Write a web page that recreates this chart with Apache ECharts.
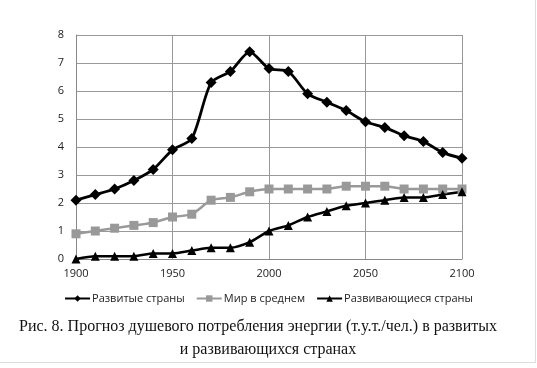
<!DOCTYPE html>
<html><head><meta charset="utf-8">
<script src="https://cdn.jsdelivr.net/npm/echarts@6/dist/echarts.min.js"></script>
<style>html,body{margin:0;padding:0;background:#fff}#c{width:537px;height:368px}</style>
</head><body><div id="c"></div>
<script>
const years = [1900,1910,1920,1930,1940,1950,1960,1970,1980,1990,2000,2010,2020,2030,2040,2050,2060,2070,2080,2090,2100];
const developed = [2.1,2.3,2.5,2.8,3.2,3.9,4.3,6.3,6.7,7.4,6.8,6.7,5.9,5.6,5.3,4.9,4.7,4.4,4.2,3.8,3.6];
const world = [0.9,1.0,1.1,1.2,1.3,1.5,1.6,2.1,2.2,2.4,2.5,2.5,2.5,2.5,2.6,2.6,2.6,2.5,2.5,2.5,2.5];
const developing = [0.0,0.1,0.1,0.1,0.2,0.2,0.3,0.4,0.4,0.6,1.0,1.2,1.5,1.7,1.9,2.0,2.1,2.2,2.2,2.3,2.4];
const seriesNames = ['Развитые страны','Мир в среднем','Развивающиеся страны'];
const captionLines = ['Рис. 8. Прогноз душевого потребления энергии (т.у.т./чел.) в развитых','и развивающихся странах'];

const pair = arr => years.map((y,i)=>[y,arr[i]]);
const chart = echarts.init(document.getElementById('c'));
const labelFont = {color:'#222', fontSize:11, fontFamily:'Open Sans'};
chart.setOption({
  animation:false,
  grid:{left:76,right:75,top:35,bottom:109},
  xAxis:{type:'value',min:1900,max:2100,interval:50,
    axisLine:{lineStyle:{color:'#888'}},axisTick:{show:false},
    splitLine:{show:true,lineStyle:{color:'#999',width:1}},
    axisLabel:Object.assign({margin:9,formatter:v=>String(v)},labelFont)},
  yAxis:{type:'value',min:0,max:8,interval:1,
    axisLine:{show:true,lineStyle:{color:'#888'}},axisTick:{show:false},
    splitLine:{show:true,lineStyle:{color:'#999',width:1}},
    axisLabel:Object.assign({margin:12},labelFont)},
  legend:{top:288,left:'center',itemWidth:25,itemHeight:8,itemGap:11,
    textStyle:{color:'#222',fontSize:11,fontFamily:'Open Sans',padding:[0,0,0,-3]},
    data:seriesNames},
  series:[
    {name:seriesNames[0],type:'line',smooth:0.25,data:pair(developed),symbol:'diamond',symbolSize:11,
     lineStyle:{color:'#000',width:2.8},itemStyle:{color:'#000'}},
    {name:seriesNames[1],type:'line',smooth:0.25,data:pair(world),symbol:'rect',symbolSize:9,
     lineStyle:{color:'#999',width:2.5},itemStyle:{color:'#999'}},
    {name:seriesNames[2],type:'line',smooth:0.25,data:pair(developing),symbol:'triangle',symbolSize:9,
     lineStyle:{color:'#000',width:2.5},itemStyle:{color:'#000'}}
  ],
  graphic:[
    {type:'line',shape:{x1:535.5,y1:0,x2:535.5,y2:362},style:{stroke:'#ddd',lineWidth:1}},
    {type:'line',shape:{x1:0,y1:362.5,x2:536,y2:362.5},style:{stroke:'#ddd',lineWidth:1}},
    {type:'text',x:258,y:327,style:{text:captionLines[0],align:'center',verticalAlign:'middle',
      font:'16px "Liberation Serif"',fill:'#111'}},
    {type:'text',x:268,y:350,style:{text:captionLines[1],align:'center',verticalAlign:'middle',
      font:'16px "Liberation Serif"',fill:'#111'}}
  ]
});
</script></body></html>
